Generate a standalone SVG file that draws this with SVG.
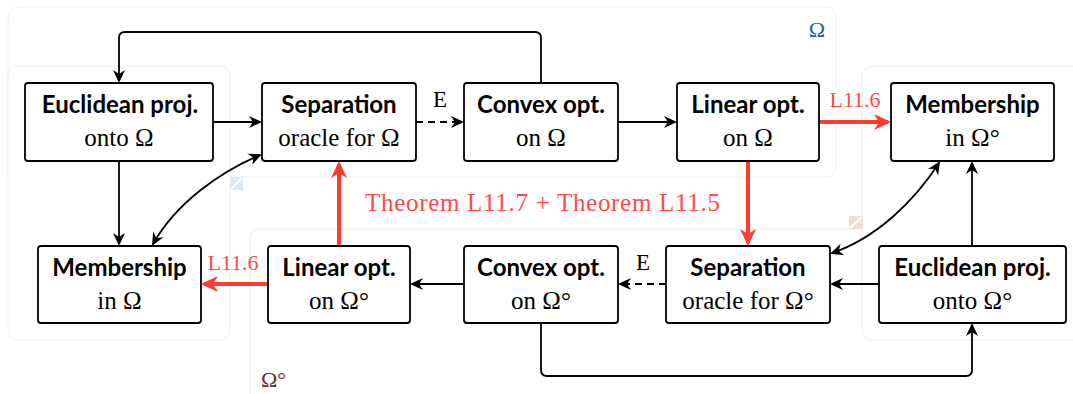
<svg xmlns="http://www.w3.org/2000/svg" width="1073" height="394" viewBox="0 0 1073 394">
  <defs>
    <style>
      .zone-o { fill: #ffffff; stroke: #ebf2fb; stroke-width: 1; }
      .zone-p { fill: #ffffff; stroke: #f6eeed; stroke-width: 1; }
      .box { fill: #ffffff; stroke: #000000; stroke-width: 1.8; }
      .title { font-family: "Lato", "Liberation Sans", sans-serif; font-weight: 700; font-size: 24px; fill: #000000; text-anchor: middle; }
      .sub { font-family: "Liberation Serif", serif; font-size: 25px; fill: #000000; text-anchor: middle; }
      .lbl { font-family: "Liberation Serif", serif; font-size: 23px; fill: #000000; text-anchor: middle; }
      .rlbl { font-family: "Liberation Serif", serif; font-size: 22px; fill: #ff4a45; text-anchor: middle; }
      .edge { fill: none; stroke: #000000; stroke-width: 1.8; }
      .dash { stroke-dasharray: 7 5; }
      .red { fill: none; stroke: #ff3b30; stroke-width: 4; }
    </style>
    <marker id="tip" markerUnits="userSpaceOnUse" markerWidth="20" markerHeight="20" refX="0" refY="0" orient="auto-start-reverse" overflow="visible">
      <path d="M2,0 L-11,-6 L-7,0 L-11,6 Z" fill="#000000"/>
    </marker>
    <marker id="rtip" markerUnits="userSpaceOnUse" markerWidth="30" markerHeight="30" refX="0" refY="0" orient="auto" overflow="visible">
      <path d="M3,0 L-14,-8 L-9,0 L-14,8 Z" fill="#ff3b30"/>
    </marker>
  </defs>

  <!-- region for Ω -->
  <g id="zone-omega">
    <rect class="zone-o" x="8" y="7" width="828" height="170" rx="10"/>
    <rect class="zone-o" x="8" y="66" width="222" height="274" rx="10"/>
    <rect x="230" y="177" width="13" height="13" fill="#dbe8f8"/>
    <line x1="231" y1="189" x2="242" y2="178" stroke="#ffffff" stroke-width="2"/>
    <text x="817" y="37" font-family="Liberation Serif, serif" font-size="22" fill="#1f5f9f" text-anchor="middle">Ω</text>
  </g>

  <!-- region for the polar Ω° -->
  <g id="zone-polar">
    <rect class="zone-p" x="250" y="229" width="840" height="200" rx="10"/>
    <rect class="zone-p" x="862" y="66" width="230" height="274" rx="10"/>
    <rect x="849" y="216" width="14" height="13" fill="#efdcd9"/>
    <line x1="850" y1="228" x2="862" y2="217" stroke="#ffffff" stroke-width="2"/>
    <text x="261" y="387" font-family="Liberation Serif, serif" font-size="22" fill="#6e2f25">Ω°</text>
  </g>

  <!-- connectors -->
  <g id="connectors">
    <path class="edge" d="M213,122 H260" marker-end="url(#tip)"/>
    <path class="edge dash" d="M416,122 H462" marker-end="url(#tip)"/>
    <text class="lbl" x="440" y="107">E</text>
    <path class="edge" d="M618,122 H675" marker-end="url(#tip)"/>
    <path class="red" d="M819,122 H888" marker-end="url(#rtip)"/>
    <text class="rlbl" x="855" y="107">L11.6</text>
    <path class="edge" d="M541,83 V38 Q541,32 535,32 H125 Q119,32 119,38 V81" marker-end="url(#tip)"/>
    <path class="edge" d="M119,161 V244" marker-end="url(#tip)"/>
    <path class="edge" d="M260,155 C220,172 176,203 153,244" marker-start="url(#tip)" marker-end="url(#tip)"/>
    <path class="red" d="M748,161 V243" marker-end="url(#rtip)"/>
    <path class="red" d="M339,246 V164" marker-end="url(#rtip)"/>
    <text x="365" y="211" font-family="Liberation Serif, serif" font-size="25" letter-spacing="0.7" fill="#ff4a45">Theorem L11.7 + Theorem L11.5</text>
    <path class="red" d="M268,284 H204" marker-end="url(#rtip)"/>
    <text class="rlbl" x="233" y="270">L11.6</text>
    <path class="edge" d="M464,284 H412" marker-end="url(#tip)"/>
    <path class="edge dash" d="M666,284 H620" marker-end="url(#tip)"/>
    <text class="lbl" x="643" y="270">E</text>
    <path class="edge" d="M879,284 H832" marker-end="url(#tip)"/>
    <path class="edge" d="M972,246 V163" marker-end="url(#tip)"/>
    <path class="edge" d="M939,163 C915,200 877,238 832,253" marker-start="url(#tip)" marker-end="url(#tip)"/>
    <path class="edge" d="M541,323 V370 Q541,376 547,376 H966 Q972,376 972,370 V325" marker-end="url(#tip)"/>
  </g>

  <!-- nodes, top row -->
  <g id="proj-omega">
    <rect class="box" x="25" y="83" width="188" height="78" rx="3"/>
    <text class="title" x="120" y="113">Euclidean proj.</text>
    <text class="sub" x="119" y="146">onto Ω</text>
  </g>
  <g id="sep-omega">
    <rect class="box" x="262" y="83" width="154" height="78" rx="3"/>
    <text class="title" x="339" y="113">Separation</text>
    <text class="sub" x="339" y="146">oracle for Ω</text>
  </g>
  <g id="convex-omega">
    <rect class="box" x="464" y="83" width="154" height="78" rx="3"/>
    <text class="title" x="541" y="113">Convex opt.</text>
    <text class="sub" x="541" y="146">on Ω</text>
  </g>
  <g id="linear-omega">
    <rect class="box" x="677" y="83" width="142" height="78" rx="3"/>
    <text class="title" x="748" y="113">Linear opt.</text>
    <text class="sub" x="748" y="146">on Ω</text>
  </g>
  <g id="member-polar">
    <rect class="box" x="891" y="83" width="163" height="78" rx="3"/>
    <text class="title" x="972.5" y="113">Membership</text>
    <text class="sub" x="972.5" y="146">in Ω°</text>
  </g>

  <!-- nodes, bottom row -->
  <g id="member-omega">
    <rect class="box" x="38" y="246" width="163" height="77" rx="3"/>
    <text class="title" x="119.5" y="276">Membership</text>
    <text class="sub" x="119.5" y="309">in Ω</text>
  </g>
  <g id="linear-polar">
    <rect class="box" x="268" y="246" width="142" height="77" rx="3"/>
    <text class="title" x="339" y="276">Linear opt.</text>
    <text class="sub" x="339" y="309">on Ω°</text>
  </g>
  <g id="convex-polar">
    <rect class="box" x="464" y="246" width="154" height="77" rx="3"/>
    <text class="title" x="541" y="276">Convex opt.</text>
    <text class="sub" x="541" y="309">on Ω°</text>
  </g>
  <g id="sep-polar">
    <rect class="box" x="666" y="246" width="164" height="77" rx="3"/>
    <text class="title" x="748" y="276">Separation</text>
    <text class="sub" x="748" y="309">oracle for Ω°</text>
  </g>
  <g id="proj-polar">
    <rect class="box" x="879" y="246" width="187" height="77" rx="3"/>
    <text class="title" x="972.5" y="276">Euclidean proj.</text>
    <text class="sub" x="972.5" y="309">onto Ω°</text>
  </g>
</svg>
